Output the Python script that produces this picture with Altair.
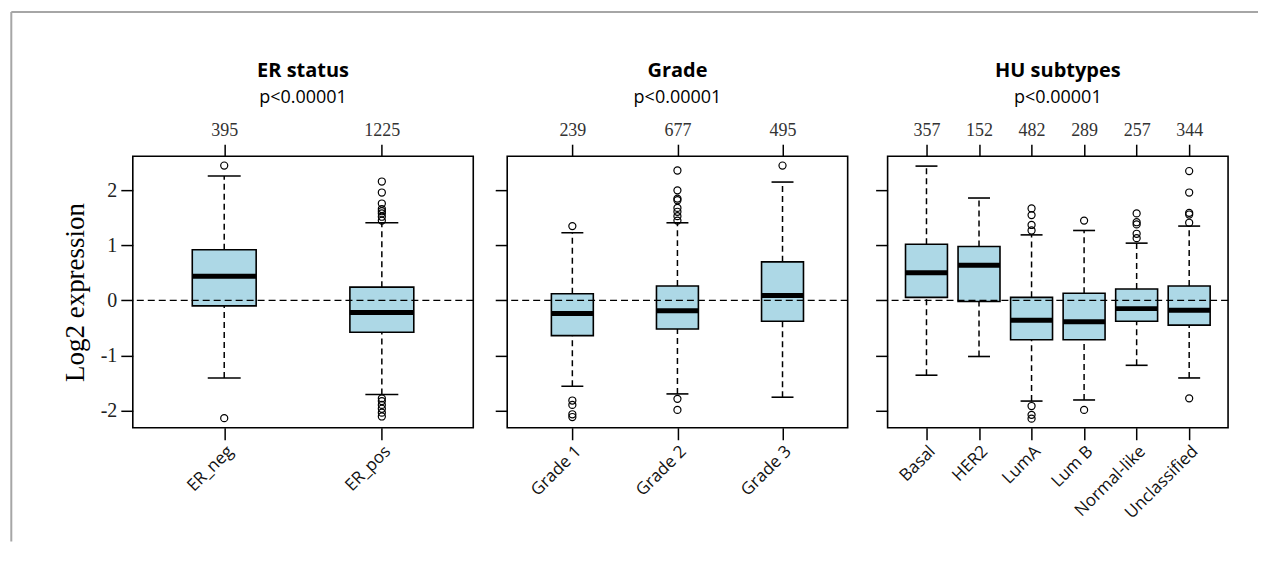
import altair as alt
import pandas as pd

# ---------------- data ----------------
er_cats = ["ER_neg", "ER_pos"]
er_n = [395, 1225]
er_lo = [-1.41, -1.71]
er_q1 = [-0.10, -0.58]
er_med = [0.44, -0.22]
er_q3 = [0.92, 0.24]
er_hi = [2.26, 1.41]
er_out_cat = ["ER_neg"] * 2 + ["ER_pos"] * 14
er_out_val = [2.45, -2.14,
              2.16, 1.96, 1.76, 1.66, 1.62, 1.58, 1.52, 1.45,
              -1.78, -1.83, -1.90, -1.97, -2.04, -2.11]

gr_cats = ["Grade 1", "Grade 2", "Grade 3"]
gr_n = [239, 677, 495]
gr_lo = [-1.56, -1.70, -1.76]
gr_q1 = [-0.64, -0.52, -0.38]
gr_med = [-0.24, -0.19, 0.09]
gr_q3 = [0.12, 0.26, 0.70]
gr_hi = [1.23, 1.41, 2.15]
gr_out_cat = ["Grade 1"] * 5 + ["Grade 2"] * 10 + ["Grade 3"] * 1
gr_out_val = [1.35, -1.82, -1.90, -2.07, -2.12,
              2.36, 2.00, 1.85, 1.82, 1.68, 1.61, 1.53, 1.45, -1.79, -1.99,
              2.45]

hu_cats = ["Basal", "HER2", "LumA", "Lum B", "Normal-like", "Unclassified"]
hu_n = [357, 152, 482, 289, 257, 344]
hu_lo = [-1.36, -1.02, -1.83, -1.81, -1.18, -1.41]
hu_q1 = [0.055, -0.02, -0.715, -0.715, -0.38, -0.45]
hu_med = [0.50, 0.64, -0.36, -0.39, -0.15, -0.18]
hu_q3 = [1.02, 0.98, 0.055, 0.13, 0.206, 0.26]
hu_hi = [2.44, 1.86, 1.19, 1.27, 1.04, 1.35]
hu_out_cat = (["LumA"] * 7 + ["Lum B"] * 2 + ["Normal-like"] * 5
              + ["Unclassified"] * 6)
hu_out_val = [1.67, 1.55, 1.37, 1.27, -1.92, -2.08, -2.15,
              1.45, -1.99,
              1.58, 1.42, 1.38, 1.21, 1.13,
              2.35, 1.96, 1.59, 1.56, 1.41, -1.78]

titles = ["ER status", "Grade", "HU subtypes"]
pvalues = ["p<0.00001", "p<0.00001", "p<0.00001"]
y_title = "Log2 expression"
y_ticks = [-2, -1, 0, 1, 2]
y_domain = [-2.315, 2.62]

SERIF = "Liberation Serif"
SANS = "Open Sans"
BOX_FILL = "#add8e6"
W, H = 341, 272


def panel(cats, n, lo, q1, med, q3, hi, out_cat, out_val, title, ptxt,
          pad, box_w, cap_w, first):
    stats = pd.DataFrame({"cat": cats, "n": n, "lo": lo, "q1": q1,
                          "med": med, "q3": q3, "hi": hi})
    outs = pd.DataFrame({"cat": out_cat, "val": out_val})
    xscale = alt.Scale(type="point", domain=cats, padding=pad)
    yscale = alt.Scale(domain=y_domain, nice=False, zero=False)

    expr = "''"
    for c, k in zip(reversed(cats), reversed(n)):
        expr = f"datum.value == '{c}' ? '{k}' : ({expr})"

    bottom_axis = alt.Axis(orient="bottom", title=None, labelAngle=-45,
                           labelFont=SANS, labelFontSize=17, labelColor="#111",
                           tickSize=12, tickWidth=1.5, tickColor="black",
                           labelPadding=3, domain=False, grid=False)
    top_axis = alt.Axis(orient="top", title=None, labelAngle=0,
                        labelExpr=expr, labelFont=SERIF, labelFontSize=18,
                        labelColor="#333", tickSize=12, tickWidth=1.5,
                        tickColor="black", labelPadding=5, domain=False,
                        grid=False)
    if first:
        yaxis = alt.Axis(values=y_ticks, tickSize=12, tickWidth=1.5,
                         tickColor="black", domain=False, grid=False,
                         labelExpr="datum.value < 0 ? '-' + abs(datum.value) : '' + datum.value",
                         labelFont=SERIF, labelFontSize=20, labelColor="#222",
                         labelPadding=4, title=y_title, titleFont=SERIF,
                         titleFontSize=27, titleFontWeight="normal",
                         titleColor="black", titlePadding=11)
    else:
        yaxis = alt.Axis(values=y_ticks, tickSize=12, tickWidth=1.5,
                         tickColor="black", domain=False, grid=False,
                         labels=False, title=None)

    def Y(field):
        return alt.Y(field, scale=yscale, axis=yaxis)

    xn = alt.X("cat:N", scale=xscale, axis=None)
    base = alt.Chart(stats)
    whisk_lo = base.mark_rule(strokeDash=[6, 4], strokeWidth=1.5,
                              color="black").encode(
        x=xn, y=Y("lo:Q"), y2="q1:Q")
    whisk_hi = base.mark_rule(strokeDash=[6, 4], strokeWidth=1.5,
                              color="black").encode(
        x=xn, y=Y("q3:Q"), y2="hi:Q")
    cap_lo = base.mark_tick(size=cap_w, thickness=1.6, color="black",
                            opacity=1).encode(x=xn, y=Y("lo:Q"))
    cap_hi = base.mark_tick(size=cap_w, thickness=1.6, color="black",
                            opacity=1).encode(x=xn, y=Y("hi:Q"))
    box = base.mark_bar(size=box_w, fill=BOX_FILL, stroke="black",
                        strokeWidth=1.6, opacity=1).encode(
        x=alt.X("cat:N", scale=xscale, axis=bottom_axis),
        y=Y("q1:Q"), y2="q3:Q")
    median = base.mark_tick(size=box_w, thickness=5, color="black",
                            opacity=1).encode(
        x=alt.X("cat:N", scale=xscale, axis=top_axis), y=Y("med:Q"))
    zero = alt.Chart(pd.DataFrame({"z": [0]})).mark_rule(
        strokeDash=[7, 4], strokeWidth=1.4, color="black").encode(
        y=Y("z:Q"))
    pts = alt.Chart(outs).mark_point(shape="circle", filled=False, size=50,
                                     color="black", strokeWidth=1.2,
                                     opacity=1).encode(x=xn, y=Y("val:Q"))

    layers = [whisk_lo, whisk_hi, cap_lo, cap_hi, box, median, zero, pts]
    return alt.layer(*layers).resolve_axis(x="independent").properties(
        width=W, height=H,
        title=alt.TitleParams(text=title, subtitle=ptxt, font=SANS,
                              fontSize=20, fontWeight="bold", color="black",
                              subtitleFont=SANS, subtitleFontSize=18,
                              subtitleColor="black", subtitlePadding=8,
                              anchor="middle", frame="group", offset=14))


p1 = panel(er_cats, er_n, er_lo, er_q1, er_med, er_q3, er_hi, er_out_cat,
           er_out_val, titles[0], pvalues[0], 0.58, 64, 33, True)
p2 = panel(gr_cats, gr_n, gr_lo, gr_q1, gr_med, gr_q3, gr_hi, gr_out_cat,
           gr_out_val, titles[1], pvalues[1], 0.62, 42, 22, False)
p3 = panel(hu_cats, hu_n, hu_lo, hu_q1, hu_med, hu_q3, hu_hi, hu_out_cat,
           hu_out_val, titles[2], pvalues[2], 0.74, 42, 22, False)

# light grey figure frame (decoration at the top and left edges)
frame_df = pd.DataFrame({"f": [0]})
left_line = alt.Chart(frame_df).mark_rule(color="#a6a6a6", strokeWidth=2).encode(
    x=alt.value(-120.7), y=alt.value(-144.5), y2=alt.value(386))
top_line = alt.Chart(frame_df).mark_rule(color="#a6a6a6", strokeWidth=2).encode(
    x=alt.value(-120.7), x2=alt.value(1128), y=alt.value(-144.5))
frame = alt.layer(left_line, top_line).properties(
    width=1, height=H, view=alt.ViewBackground(stroke="transparent"))

chart = alt.hconcat(
    frame,
    alt.hconcat(p1, alt.hconcat(p2, p3, spacing=40, bounds="flush"),
                spacing=34, bounds="flush"),
    spacing=0, bounds="flush"
).properties(
    padding={"left": 1, "top": 1, "right": 5, "bottom": 2}
).configure_view(
    stroke="black", strokeWidth=1.6
)

chart.save("out.html", embed_options={"renderer": "svg", "actions": False})
